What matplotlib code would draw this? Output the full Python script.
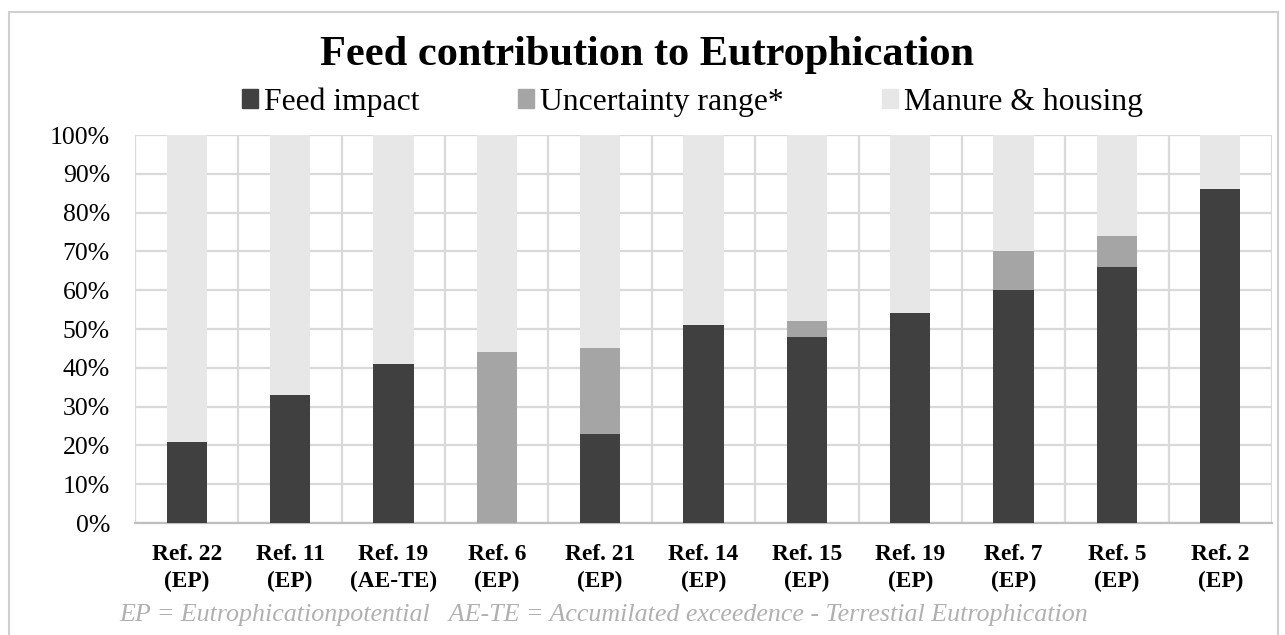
import matplotlib
matplotlib.use("Agg")
import matplotlib.pyplot as plt
from matplotlib.patches import Rectangle, Patch
from matplotlib.ticker import FixedLocator, PercentFormatter

categories = ["Ref. 22\n(EP)", "Ref. 11\n(EP)", "Ref. 19\n(AE-TE)", "Ref. 6\n(EP)", "Ref. 21\n(EP)",
              "Ref. 14\n(EP)", "Ref. 15\n(EP)", "Ref. 19\n(EP)", "Ref. 7\n(EP)", "Ref. 5\n(EP)", "Ref. 2\n(EP)"]
feed_impact = [21, 33, 41, 0, 23, 51, 48, 54, 60, 66, 86]
uncertainty = [0, 0, 0, 44, 22, 0, 4, 0, 10, 8, 0]
manure = [100 - f - u for f, u in zip(feed_impact, uncertainty)]

c_feed = "#404040"
c_unc = "#a5a5a5"
c_man = "#e7e7e7"
c_grid = "#d9d9d9"
serif = ["Liberation Serif", "DejaVu Serif"]

W, H = 1285, 635
fig = plt.figure(figsize=(W / 100, H / 100), dpi=100)
ax = fig.add_axes([135/W, 1-523/H, 1137/W, 388/H])

x = list(range(len(categories)))
w = 0.39
ax.bar(x, feed_impact, w, color=c_feed, zorder=3, label="Feed impact")
ax.bar(x, uncertainty, w, bottom=feed_impact, color=c_unc, zorder=3, label="Uncertainty range*")
bottoms = [f + u for f, u in zip(feed_impact, uncertainty)]
ax.bar(x, manure, w, bottom=bottoms, color=c_man, zorder=3, label="Manure & housing")

ax.set_xlim(-0.5, len(categories) - 0.5)
ax.set_ylim(0, 100)
ax.set_yticks(range(0, 101, 10))
ax.yaxis.set_major_formatter(PercentFormatter(decimals=0))
ax.set_xticks(x)
ax.set_xticklabels(categories, fontfamily=serif, fontweight="bold", fontsize=16.8, linespacing=1.35)
ax.xaxis.set_minor_locator(FixedLocator([i - 0.5 for i in range(len(categories) + 1)]))
for lab in ax.get_yticklabels():
    lab.set_fontfamily(serif)
    lab.set_fontsize(18.5)
ax.tick_params(axis="both", which="both", length=0)
ax.tick_params(axis="x", pad=15)
ax.tick_params(axis="y", pad=18)
ax.grid(axis="y", which="major", color=c_grid, linewidth=1.6, zorder=0)
ax.grid(axis="x", which="minor", color=c_grid, linewidth=1.6, zorder=0)
ax.set_axisbelow(True)
for s in ["top", "right", "left"]:
    ax.spines[s].set_visible(False)
ax.spines["bottom"].set_color("#bfbfbf")
ax.spines["bottom"].set_linewidth(1.6)

fig.text((320 + 973) / 2 / W, 1-55/H, "Feed contribution to Eutrophication", ha="center", va="center",
         fontfamily=serif, fontweight="bold", fontsize=30.5)

handles = [Patch(color=c_feed), Patch(color=c_unc), Patch(color=c_man)]
labels = ["Feed impact", "Uncertainty range*", "Manure & housing"]
fig.legend(handles, labels, loc="center left", bbox_to_anchor=(242/W, 1-102/H), ncol=3, frameon=False,
           prop={"family": serif, "size": 22.8}, handlelength=0.5, handleheight=0.5, handletextpad=0.2,
           columnspacing=3.1, borderpad=0, borderaxespad=0)

fig.text((118 + 1090) / 2 / W, 1-615/H,
         "EP = Eutrophicationpotential   AE-TE = Accumilated exceedence - Terrestial Eutrophication",
         ha="center", va="center", fontfamily=serif, fontstyle="italic", fontsize=18.7, color="#b0b0b0")

fig.patches.append(Rectangle((9/W, -0.05), 1269/W, 1.05 - 12/H, transform=fig.transFigure,
                             fill=False, edgecolor="#d0d0d0", linewidth=1.5))

fig.savefig("out.png", dpi=100, facecolor="white")
